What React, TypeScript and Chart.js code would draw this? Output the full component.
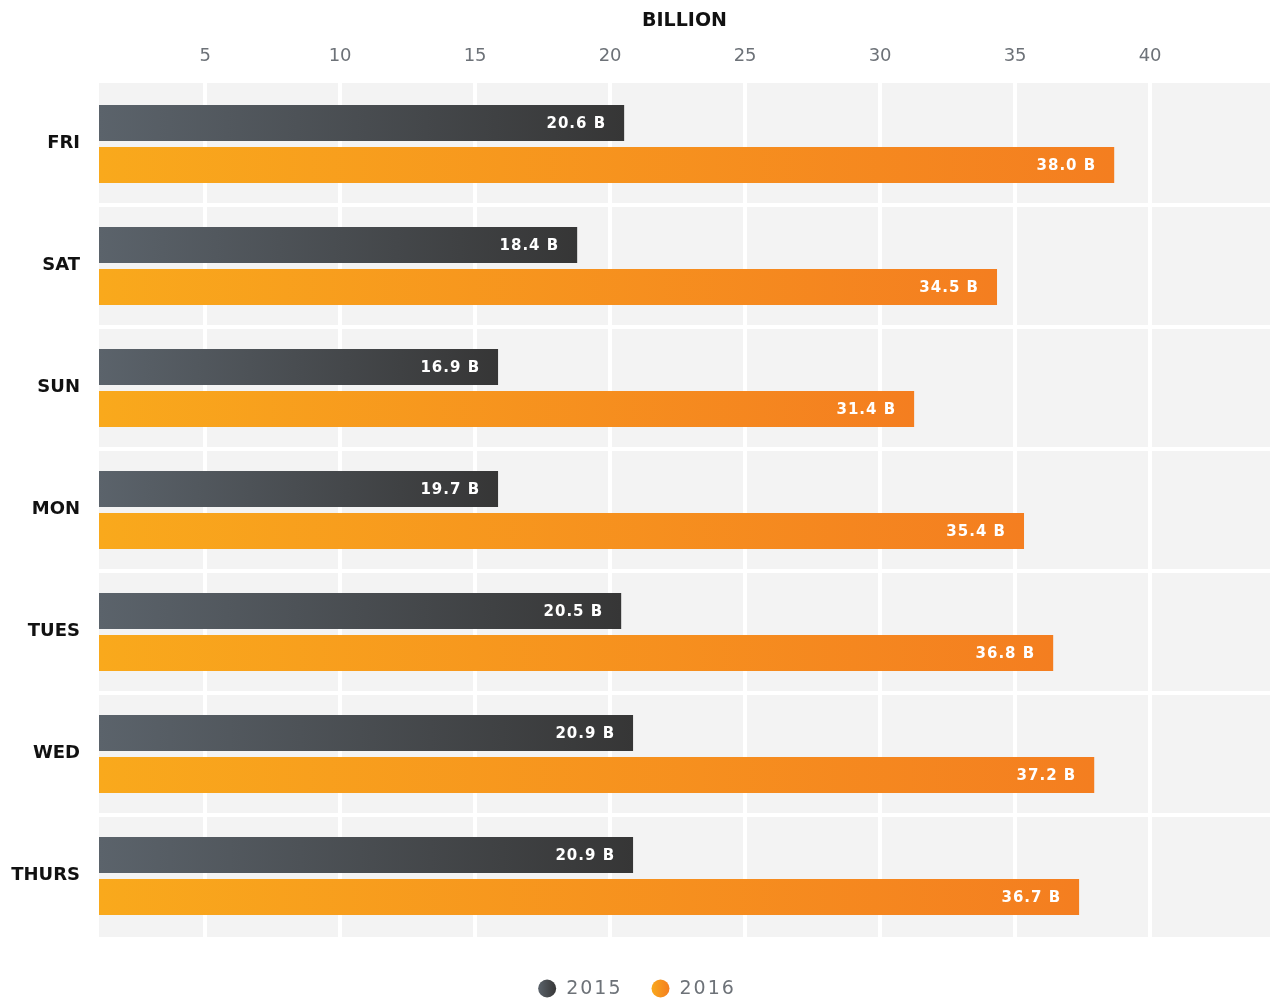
import React, { useEffect, useRef } from 'react';
import { Chart, registerables } from 'chart.js';

Chart.register(...registerables);

const days = ['FRI', 'SAT', 'SUN', 'MON', 'TUES', 'WED', 'THURS'];
const seriesNames = ['2015', '2016'];
const values2015 = [20.52, 18.78, 15.85, 15.85, 20.41, 20.85, 20.85];
const values2016 = [38.67, 34.33, 31.26, 35.33, 36.41, 37.93, 37.37];
const labels2015 = ['20.6 B', '18.4 B', '16.9 B', '19.7 B', '20.5 B', '20.9 B', '20.9 B'];
const labels2016 = ['38.0 B', '34.5 B', '31.4 B', '35.4 B', '36.8 B', '37.2 B', '36.7 B'];
const axisTitle = 'BILLION';
const axisMin = 1.07;
const axisMax = 44.44;
const tickStep = 5;

const grayStops = ['#5b636b', '#363636'];
const orangeStops = ['#f9a91c', '#f47e20'];
const FONT = '"DejaVu Sans", sans-serif';

const gradFill = (stops: string[]) => (c: any) => {
  const chart = c.chart;
  const area = chart.chartArea;
  if (!area || c.type !== 'data') return stops[0];
  const x1 = chart.scales.x.getPixelForValue(c.raw as number);
  const g = chart.ctx.createLinearGradient(area.left, 0, Math.max(x1, area.left + 1), 0);
  g.addColorStop(0, stops[0]);
  g.addColorStop(1, stops[1]);
  return g;
};

const bgPlugin = {
  id: 'plotBg',
  beforeDraw(chart: any) {
    const { ctx, chartArea: a } = chart;
    ctx.save();
    ctx.fillStyle = '#f3f3f3';
    ctx.fillRect(a.left, a.top, a.right - a.left, a.bottom - a.top);
    ctx.restore();
  },
};

const labelPlugin = {
  id: 'barLabels',
  afterDatasetsDraw(chart: any) {
    const ctx = chart.ctx;
    const texts = [labels2015, labels2016];
    ctx.save();
    ctx.font = `bold 15px ${FONT}`;
    (ctx as any).letterSpacing = '1px';
    ctx.fillStyle = '#ffffff';
    ctx.textAlign = 'right';
    ctx.textBaseline = 'middle';
    texts.forEach((arr, di) => {
      const meta = chart.getDatasetMeta(di);
      meta.data.forEach((el: any, i: number) => {
        ctx.fillText(arr[i], el.x - 19 + 1, el.y + 1);
      });
    });
    ctx.restore();
  },
};

const legendPlugin = {
  id: 'customLegend',
  afterDraw(chart: any) {
    const ctx = chart.ctx;
    const stops = [grayStops, orangeStops];
    const r = 9;
    const gapText = 10;
    const gapItem = 29;
    const cy = 988.5;
    ctx.save();
    ctx.font = `19px ${FONT}`;
    (ctx as any).letterSpacing = '2px';
    const widths = seriesNames.map((s) => ctx.measureText(s).width);
    let total = 0;
    widths.forEach((w, i) => {
      total += 2 * r + gapText + w + (i < widths.length - 1 ? gapItem : 0);
    });
    let x = 637 - total / 2;
    seriesNames.forEach((s, i) => {
      const g = ctx.createLinearGradient(x, 0, x + 2 * r, 0);
      g.addColorStop(0, stops[i][0]);
      g.addColorStop(1, stops[i][1]);
      ctx.fillStyle = g;
      ctx.beginPath();
      ctx.arc(x + r, cy, r, 0, Math.PI * 2);
      ctx.fill();
      ctx.fillStyle = '#6d7278';
      ctx.textAlign = 'left';
      ctx.textBaseline = 'middle';
      ctx.fillText(s, x + 2 * r + gapText, cy + 1);
      x += 2 * r + gapText + widths[i] + gapItem;
    });
    ctx.restore();
  },
};

export default function App() {
  const ref = useRef<HTMLCanvasElement | null>(null);

  useEffect(() => {
    if (!ref.current) return;
    const chart = new Chart(ref.current, {
      type: 'bar',
      data: {
        labels: days,
        datasets: [
          {
            label: seriesNames[0],
            data: values2015,
            backgroundColor: gradFill(grayStops) as any,
            borderWidth: 0,
            categoryPercentage: 0.6885,
            barPercentage: 0.857,
          },
          {
            label: seriesNames[1],
            data: values2016,
            backgroundColor: gradFill(orangeStops) as any,
            borderWidth: 0,
            categoryPercentage: 0.6885,
            barPercentage: 0.857,
          },
        ],
      },
      options: {
        indexAxis: 'y',
        responsive: true,
        maintainAspectRatio: false,
        animation: false,
        layout: { padding: { left: 0, right: 0, top: 0, bottom: 61 } },
        plugins: {
          legend: { display: false },
          tooltip: { enabled: false },
        },
        scales: {
          x: {
            type: 'linear',
            position: 'top',
            min: axisMin,
            max: axisMax,
            ticks: {
              stepSize: tickStep,
              padding: 16,
              color: '#6d7278',
              font: { family: FONT, size: 18 },
              callback: (v: any) => String(Math.round(Number(v))),
            },
            afterBuildTicks: (scale: any) => {
              scale.ticks = scale.ticks.filter((t: any) => {
                const q = t.value / tickStep;
                return Math.abs(q - Math.round(q)) < 1e-6 && t.value > axisMin + 0.5 && t.value < axisMax - 0.5;
              });
            },
            afterFit: (scale: any) => {
              scale.height = 83;
            },
            grid: { color: '#ffffff', lineWidth: 4, drawTicks: false },
            border: { display: false },
            title: {
              display: true,
              text: axisTitle,
              color: '#111111',
              font: { family: FONT, size: 19, weight: 'bold' },
              padding: { top: 10, bottom: 0 },
            },
          },
          y: {
            type: 'category',
            afterFit: (scale: any) => {
              scale.width = 99;
            },
            ticks: {
              padding: 19,
              labelOffset: -1,
              color: '#111111',
              font: { family: FONT, size: 18, weight: 'bold' },
            },
            grid: {
              offset: true,
              drawTicks: false,
              lineWidth: 4,
              color: (c: any) => (c.type !== 'tick' || c.index === 0 ? 'rgba(0,0,0,0)' : '#ffffff'),
            },
            border: { display: false },
          },
        },
      },
      plugins: [bgPlugin, labelPlugin, legendPlugin],
    });
    return () => chart.destroy();
  }, []);

  return (
    <div style={{ position: 'absolute', left: 0, top: 0, width: '1270px', height: '998px' }}>
      <canvas ref={ref} />
    </div>
  );
}
